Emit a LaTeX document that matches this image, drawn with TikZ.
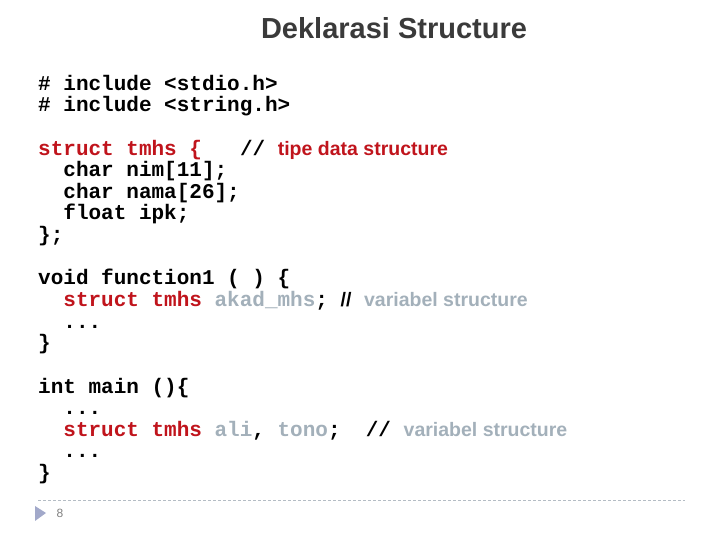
\documentclass[tikz,border=0pt]{standalone}
\usepackage{fontspec}
\setmainfont{Liberation Sans}
\setsansfont{Liberation Sans}
\setmonofont{Liberation Mono}
\definecolor{kwred}{HTML}{C0141C}
\definecolor{vargray}{HTML}{A3B0BA}
\definecolor{titlegray}{HTML}{3A3A3A}
\definecolor{rulegray}{HTML}{B4BCC4}
\tikzset{
  codeline/.style={anchor=base west,inner sep=0pt,font=\fontsize{21}{21}\selectfont\ttfamily\bfseries}
}
\newcommand{\kw}[1]{\textcolor{kwred}{#1}}
\newcommand{\vr}[1]{\textcolor{vargray}{#1}}
\newcommand{\cmt}[1]{{\fontsize{19.5}{20}\selectfont\sffamily\bfseries #1}}
\begin{document}
\begin{tikzpicture}[x=1pt,y=1pt]
  \useasboundingbox (0,0) rectangle (720,540);
  \node[font=\fontsize{29}{30}\selectfont\sffamily\bfseries,text=titlegray] (title) at (394,512) {Deklarasi Structure};
  % code lines
  \node[codeline] (l1) at (38,449) {\# include <stdio.h>};
  \node[codeline] (l2) at (38,428) {\# include <string.h>};
  \node[codeline] (l3) at (38,384) {\kw{struct tmhs \{}\hspace{38pt}// \cmt{\kw{tipe data structure}}};
  \node[codeline] (l4) at (38,363) {\ \ char nim[11];};
  \node[codeline] (l5) at (38,341) {\ \ char nama[26];};
  \node[codeline] (l6) at (38,320) {\ \ float ipk;};
  \node[codeline] (l7) at (38,298) {\};};
  \node[codeline] (l8) at (38,255) {void function1 ( ) \{};
  \node[codeline] (l9) at (38,233) {\ \ \kw{struct tmhs} \vr{akad\_mhs}; \cmt{//} \cmt{\vr{variabel structure}}};
  \node[codeline] (l10) at (38,211) {\ \ ...};
  \node[codeline] (l11) at (38,190) {\}};
  \node[codeline] (l12) at (38,146) {int main ()\{};
  \node[codeline] (l13) at (38,125) {\ \ ...};
  \node[codeline] (l14) at (38,103) {\ \ \kw{struct tmhs} \vr{ali}, \vr{tono};\ \ // \cmt{\vr{variabel structure}}};
  \node[codeline] (l15) at (38,82) {\ \ ...};
  \node[codeline] (l16) at (38,60) {\}};
  % footer
  \draw[rulegray,dash pattern=on 3pt off 2pt] (38,40) -- (685,40);
  \fill[rulegray!90!blue] (35,34) -- (46,27) -- (35,19) -- cycle;
  \node[font=\fontsize{12}{12}\selectfont\sffamily,text=gray] (page) at (60,27) {8};
\end{tikzpicture}
\end{document}
